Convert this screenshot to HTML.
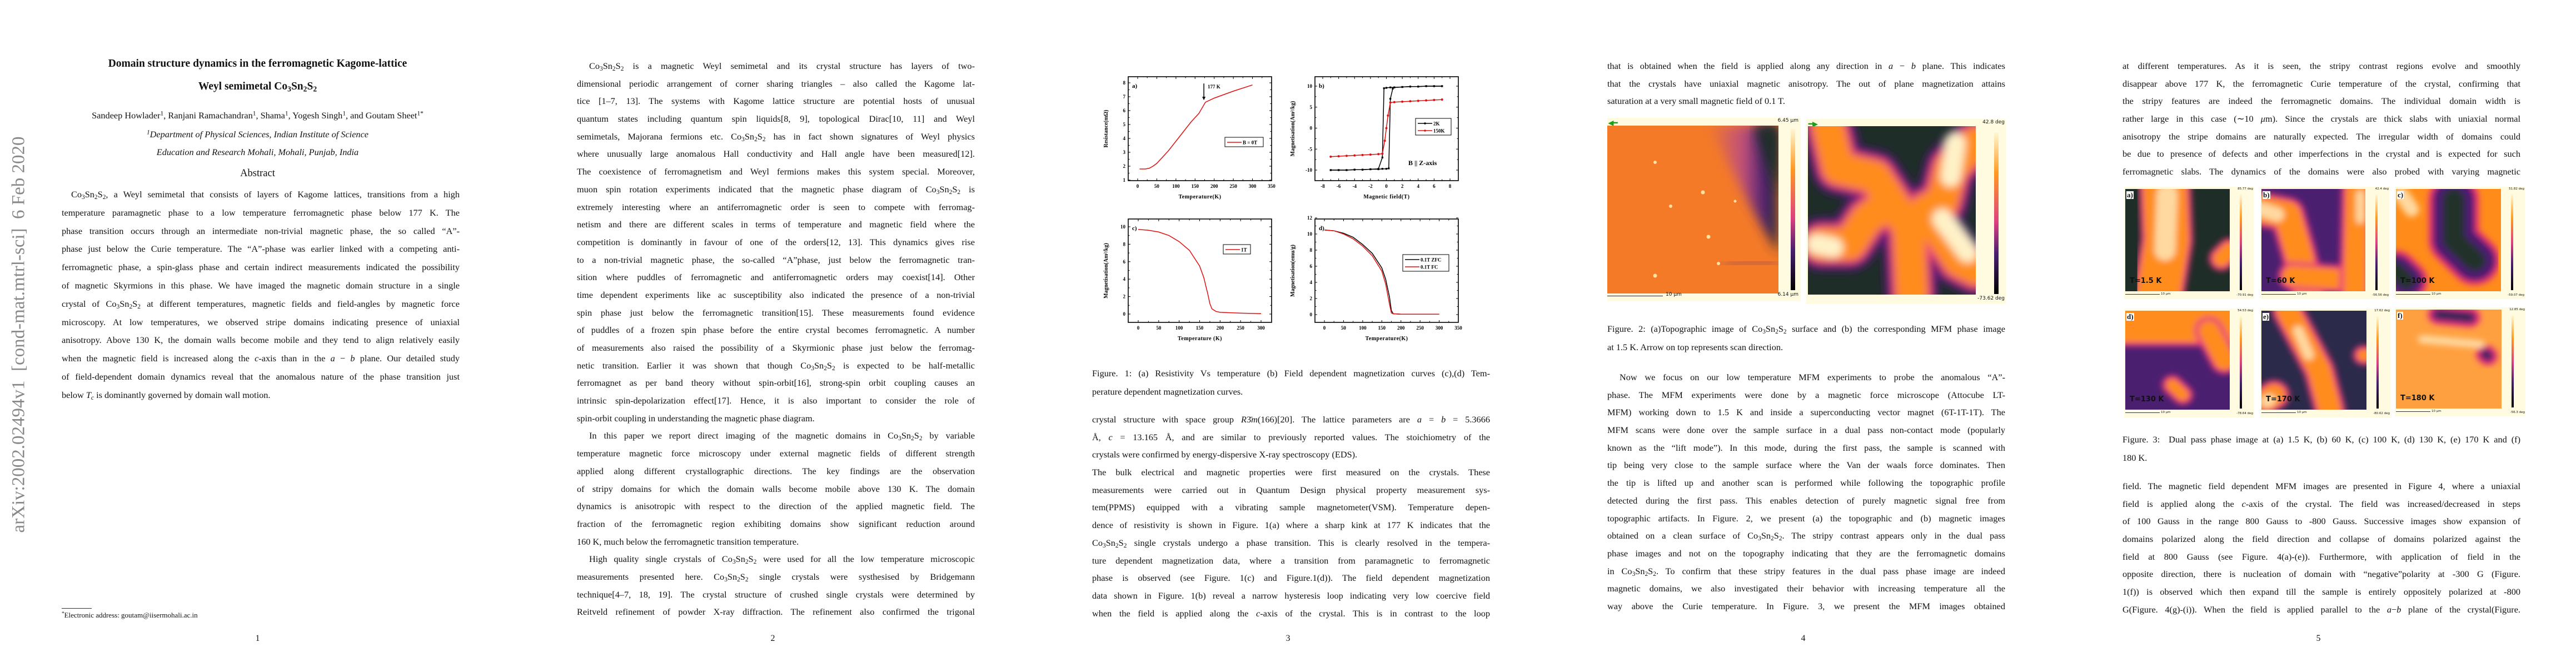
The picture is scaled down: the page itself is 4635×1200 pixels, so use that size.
<!DOCTYPE html>
<html><head><meta charset="utf-8">
<style>
html,body{margin:0;padding:0;background:#fff;}
body{width:4635px;height:1200px;position:relative;overflow:hidden;font-family:"Liberation Serif",serif;color:#111;}
.page{position:absolute;top:0;width:927px;height:1200px;background:#fff;}
.txt{position:absolute;left:111px;width:716px;font-size:16.3px;}
.ln{height:31.7px;line-height:31.7px;white-space:nowrap;text-align:justify;text-align-last:justify;overflow:visible;}
.ln.e{text-align-last:left;}
.ln.i{text-indent:22px;}
sub{font-size:0.7em;vertical-align:-0.25em;line-height:0;}
sup{font-size:0.7em;vertical-align:0.5em;line-height:0;}
.pn{position:absolute;top:1140px;width:927px;text-align:center;font-size:16px;}
.ctr{position:absolute;left:0;width:927px;text-align:center;}
svg text{font-family:"Liberation Serif",serif;}
</style></head>
<body>

<!-- PAGE 1 -->
<div class="page" style="left:0">
  <div style="position:absolute;left:14px;top:275px;width:40px;height:655px;">
    <div style="position:absolute;left:20px;top:327px;transform:translate(-50%,-50%) rotate(-90deg);white-space:nowrap;font-size:33px;color:#888;">arXiv:2002.02494v1&nbsp; [cond-mat.mtrl-sci]&nbsp; 6 Feb 2020</div>
  </div>
  <div class="ctr" style="top:104px;font-size:19.5px;font-weight:bold;">Domain structure dynamics in the ferromagnetic Kagome-lattice</div>
  <div class="ctr" style="top:145px;font-size:19.5px;font-weight:bold;">Weyl semimetal Co<sub>3</sub>Sn<sub>2</sub>S<sub>2</sub></div>
  <div class="ctr" style="top:198px;font-size:16.3px;">Sandeep Howlader<sup>1</sup>, Ranjani Ramachandran<sup>1</sup>, Shama<sup>1</sup>, Yogesh Singh<sup>1</sup>, and Goutam Sheet<sup>1*</sup></div>
  <div class="ctr" style="top:232px;font-size:16.3px;font-style:italic;"><sup>1</sup>Department of Physical Sciences, Indian Institute of Science</div>
  <div class="ctr" style="top:264px;font-size:16.3px;font-style:italic;">Education and Research Mohali, Mohali, Punjab, India</div>
  <div class="ctr" style="top:302px;font-size:18.5px;">Abstract</div>
  <div class="txt" style="top:334px;">
    <div class="ln i" style="height:32.8px;line-height:32.8px;text-indent:17px">Co<sub>3</sub>Sn<sub>2</sub>S<sub>2</sub>, a Weyl semimetal that consists of layers of Kagome lattices, transitions from a high</div>
    <div class="ln" style="height:32.8px;line-height:32.8px">temperature paramagnetic phase to a low temperature ferromagnetic phase below 177 K. The</div>
    <div class="ln" style="height:32.8px;line-height:32.8px">phase transition occurs through an intermediate non-trivial magnetic phase, the so called “A”-</div>
    <div class="ln" style="height:32.8px;line-height:32.8px">phase just below the Curie temperature. The “A”-phase was earlier linked with a competing anti-</div>
    <div class="ln" style="height:32.8px;line-height:32.8px">ferromagnetic phase, a spin-glass phase and certain indirect measurements indicated the possibility</div>
    <div class="ln" style="height:32.8px;line-height:32.8px">of magnetic Skyrmions in this phase. We have imaged the magnetic domain structure in a single</div>
    <div class="ln" style="height:32.8px;line-height:32.8px">crystal of Co<sub>3</sub>Sn<sub>2</sub>S<sub>2</sub> at different temperatures, magnetic fields and field-angles by magnetic force</div>
    <div class="ln" style="height:32.8px;line-height:32.8px">microscopy. At low temperatures, we observed stripe domains indicating presence of uniaxial</div>
    <div class="ln" style="height:32.8px;line-height:32.8px">anisotropy. Above 130 K, the domain walls become mobile and they tend to align relatively easily</div>
    <div class="ln" style="height:32.8px;line-height:32.8px">when the magnetic field is increased along the <i>c</i>-axis than in the <i>a</i> − <i>b</i> plane. Our detailed study</div>
    <div class="ln" style="height:32.8px;line-height:32.8px">of field-dependent domain dynamics reveal that the anomalous nature of the phase transition just</div>
    <div class="ln e" style="height:32.8px;line-height:32.8px">below <i>T<sub>c</sub></i> is dominantly governed by domain wall motion.</div>
  </div>
  <div style="position:absolute;left:111px;top:1094px;width:54px;border-top:1px solid #333;"></div>
  <div style="position:absolute;left:111px;top:1099px;font-size:13px;"><sup>*</sup>Electronic address: goutam@iisermohali.ac.in</div>
  <div class="pn">1</div>
</div>

<!-- PAGE 2 -->
<div class="page" style="left:927px">
  <div class="txt" style="top:103px;">
    <div class="ln i">Co<sub>3</sub>Sn<sub>2</sub>S<sub>2</sub> is a magnetic Weyl semimetal and its crystal structure has layers of two-</div>
    <div class="ln">dimensional periodic arrangement of corner sharing triangles – also called the Kagome lat-</div>
    <div class="ln">tice [1–7, 13]. The systems with Kagome lattice structure are potential hosts of unusual</div>
    <div class="ln">quantum states including quantum spin liquids[8, 9], topological Dirac[10, 11] and Weyl</div>
    <div class="ln">semimetals, Majorana fermions etc. Co<sub>3</sub>Sn<sub>2</sub>S<sub>2</sub> has in fact shown signatures of Weyl physics</div>
    <div class="ln">where unusually large anomalous Hall conductivity and Hall angle have been measured[12].</div>
    <div class="ln">The coexistence of ferromagnetism and Weyl fermions makes this system special. Moreover,</div>
    <div class="ln">muon spin rotation experiments indicated that the magnetic phase diagram of Co<sub>3</sub>Sn<sub>2</sub>S<sub>2</sub> is</div>
    <div class="ln">extremely interesting where an antiferromagnetic order is seen to compete with ferromag-</div>
    <div class="ln">netism and there are different scales in terms of temperature and magnetic field where the</div>
    <div class="ln">competition is dominantly in favour of one of the orders[12, 13]. This dynamics gives rise</div>
    <div class="ln">to a non-trivial magnetic phase, the so-called “A”phase, just below the ferromagnetic tran-</div>
    <div class="ln">sition where puddles of ferromagnetic and antiferromagnetic orders may coexist[14]. Other</div>
    <div class="ln">time dependent experiments like ac susceptibility also indicated the presence of a non-trivial</div>
    <div class="ln">spin phase just below the ferromagnetic transition[15]. These measurements found evidence</div>
    <div class="ln">of puddles of a frozen spin phase before the entire crystal becomes ferromagnetic. A number</div>
    <div class="ln">of measurements also raised the possibility of a Skyrmionic phase just below the ferromag-</div>
    <div class="ln">netic transition. Earlier it was shown that though Co<sub>3</sub>Sn<sub>2</sub>S<sub>2</sub> is expected to be half-metallic</div>
    <div class="ln">ferromagnet as per band theory without spin-orbit[16], strong-spin orbit coupling causes an</div>
    <div class="ln">intrinsic spin-depolarization effect[17]. Hence, it is also important to consider the role of</div>
    <div class="ln e">spin-orbit coupling in understanding the magnetic phase diagram.</div>
    <div class="ln i">In this paper we report direct imaging of the magnetic domains in Co<sub>3</sub>Sn<sub>2</sub>S<sub>2</sub> by variable</div>
    <div class="ln">temperature magnetic force microscopy under external magnetic fields of different strength</div>
    <div class="ln">applied along different crystallographic directions. The key findings are the observation</div>
    <div class="ln">of stripy domains for which the domain walls become mobile above 130 K. The domain</div>
    <div class="ln">dynamics is anisotropic with respect to the direction of the applied magnetic field. The</div>
    <div class="ln">fraction of the ferromagnetic region exhibiting domains show significant reduction around</div>
    <div class="ln e">160 K, much below the ferromagnetic transition temperature.</div>
    <div class="ln i">High quality single crystals of Co<sub>3</sub>Sn<sub>2</sub>S<sub>2</sub> were used for all the low temperature microscopic</div>
    <div class="ln">measurements presented here. Co<sub>3</sub>Sn<sub>2</sub>S<sub>2</sub> single crystals were systhesised by Bridgemann</div>
    <div class="ln">technique[4–7, 18, 19]. The crystal structure of crushed single crystals were determined by</div>
    <div class="ln">Reitveld refinement of powder X-ray diffraction. The refinement also confirmed the trigonal</div>
  </div>
  <div class="pn">2</div>
</div>

<!-- PAGE 3 -->
<div class="page" style="left:1854px">
  <svg id="fig1" width="927" height="640" style="position:absolute;left:0;top:0"></svg>
  <div class="txt" style="top:655px;">
    <div class="ln" style="height:33px;line-height:33px">Figure. 1: (a) Resistivity Vs temperature (b) Field dependent magnetization curves (c),(d) Tem-</div>
    <div class="ln e" style="height:33px;line-height:33px">perature dependent magnetization curves.</div>
  </div>
  <div class="txt" style="top:739px;">
    <div class="ln">crystal structure with space group <i>R</i>3̄<i>m</i>(166)[20]. The lattice parameters are <i>a</i> = <i>b</i> = 5.3666</div>
    <div class="ln">Å, <i>c</i> = 13.165 Å, and are similar to previously reported values. The stoichiometry of the</div>
    <div class="ln e">crystals were confirmed by energy-dispersive X-ray spectroscopy (EDS).</div>
    <div class="ln">The bulk electrical and magnetic properties were first measured on the crystals. These</div>
    <div class="ln">measurements were carried out in Quantum Design physical property measurement sys-</div>
    <div class="ln">tem(PPMS) equipped with a vibrating sample magnetometer(VSM). Temperature depen-</div>
    <div class="ln">dence of resistivity is shown in Figure. 1(a) where a sharp kink at 177 K indicates that the</div>
    <div class="ln">Co<sub>3</sub>Sn<sub>2</sub>S<sub>2</sub> single crystals undergo a phase transition. This is clearly resolved in the tempera-</div>
    <div class="ln">ture dependent magnetization data, where a transition from paramagnetic to ferromagnetic</div>
    <div class="ln">phase is observed (see Figure. 1(c) and Figure.1(d)). The field dependent magnetization</div>
    <div class="ln">data shown in Figure. 1(b) reveal a narrow hysteresis loop indicating very low coercive field</div>
    <div class="ln">when the field is applied along the <i>c</i>-axis of the crystal. This is in contrast to the loop</div>
  </div>
  <div class="pn">3</div>
</div>

<!-- PAGE 4 -->
<div class="page" style="left:2781px">
  <div class="txt" style="top:103px;">
    <div class="ln">that is obtained when the field is applied along any direction in <i>a</i> − <i>b</i> plane. This indicates</div>
    <div class="ln">that the crystals have uniaxial magnetic anisotropy. The out of plane magnetization attains</div>
    <div class="ln e">saturation at a very small magnetic field of 0.1 T.</div>
  </div>
  <div style="position:absolute;left:111px;top:212px;width:348px;height:330px;background:#fffbe0;">
    <div style="position:absolute;left:2px;top:4px;color:#1aa01a;font-size:12px;font-weight:bold;line-height:10px;">◀━</div>
    <div style="position:absolute;right:4px;top:0px;font-family:'DejaVu Sans',sans-serif;font-size:9px;">6.45 μm</div>
    <svg style="position:absolute;left:0;top:14px" width="308" height="302" viewBox="0 0 308 302">
      <defs><filter id="bt" x="-20%" y="-20%" width="140%" height="140%"><feGaussianBlur stdDeviation="10"/></filter>
      <linearGradient id="tg" x1="0" y1="0" x2="1" y2="0"><stop offset="0" stop-color="#f47a28"/><stop offset="0.5" stop-color="#c0507a"/><stop offset="0.8" stop-color="#4a2070"/><stop offset="1" stop-color="#26302a"/></linearGradient></defs>
      <rect width="308" height="302" fill="#f47a28"/>
      <path d="M180,0 L308,0 L308,230 Q270,170 240,110 Q210,50 180,0Z" fill="url(#tg)" filter="url(#bt)"/>
      <path d="M265,0 L308,0 L308,120 Q285,70 265,0Z" fill="#1f2e28" filter="url(#bt)"/>
      <path d="M210,250 L308,245" stroke="#6a2a60" stroke-width="5" filter="url(#bt)"/>
      <g fill="#ffe2a0"><circle cx="86" cy="66" r="3"/><circle cx="172" cy="120" r="3.5"/><circle cx="114" cy="145" r="3"/><circle cx="182" cy="200" r="3.5"/><circle cx="86" cy="270" r="3.5"/><circle cx="200" cy="248" r="3"/><circle cx="230" cy="136" r="2.5"/></g>
    </svg>
    <div style="position:absolute;left:330px;top:20px;width:8px;height:290px;background:linear-gradient(#fff7d0,#ff9a20 25%,#e04080 55%,#4a1f70 75%,#000);"></div>
    <div style="position:absolute;left:0;top:320px;width:100px;border-top:1px solid #222;"></div>
    <div style="position:absolute;left:105px;top:313px;font-family:'DejaVu Sans',sans-serif;font-size:9px;">10 μm</div>
    <div style="position:absolute;right:4px;top:313px;font-family:'DejaVu Sans',sans-serif;font-size:9px;">6.14 μm</div>
  </div>
  <div style="position:absolute;left:469px;top:214px;width:359px;height:333px;background:#fffbe0;">
    <div style="position:absolute;left:4px;top:4px;color:#1aa01a;font-size:12px;font-weight:bold;line-height:10px;">━▶</div>
    <div style="position:absolute;right:2px;top:1px;font-family:'DejaVu Sans',sans-serif;font-size:9px;">42.8 deg</div>
    <svg style="position:absolute;left:3px;top:13px" width="302" height="303" viewBox="0 0 100 100" preserveAspectRatio="none">
      <defs><filter id="b2" x="-30%" y="-30%" width="160%" height="160%"><feGaussianBlur stdDeviation="2.5"/></filter></defs>
      <rect width="100" height="100" fill="#1e2d27"/>
      <g filter="url(#b2)" fill="none" stroke-linecap="round" stroke-linejoin="round">
        <path d="M12,0 L18,25 L40,30 L50,45 L60,60 L62,100 M8,70 L25,70 L35,55 L50,45 M100,10 L85,25 L80,45 L70,50 L90,80 L100,85" stroke="#4b1f70" stroke-width="32"/>
        <path d="M12,0 L18,25 L40,30 L50,45 L60,60 L62,100 M8,70 L25,70 L35,55 L50,45 M100,10 L85,25 L80,45 L70,50 L90,80 L100,85" stroke="#e8307a" stroke-width="24"/>
        <path d="M12,0 L18,25 L40,30 L50,45 L60,60 L62,100 M8,70 L25,70 L35,55 L50,45 M100,10 L85,25 L80,45 L70,50 L90,80 L100,85" stroke="#ff8c1a" stroke-width="19"/>
        <path d="M5,70 L15,72 M88,10 L85,30 M80,55 L95,75" stroke="#fff2c8" stroke-width="12"/>
      </g>
    </svg>
    <div style="position:absolute;left:338px;top:25px;width:8px;height:290px;background:linear-gradient(#fff7d0,#ff9a20 25%,#e04080 55%,#4a1f70 75%,#000);"></div>
    <div style="position:absolute;right:2px;top:318px;font-family:'DejaVu Sans',sans-serif;font-size:9px;">-73.62 deg</div>
  </div>
  <div class="txt" style="top:575px;">
    <div class="ln" style="height:33px;line-height:33px">Figure. 2: (a)Topographic image of Co<sub>3</sub>Sn<sub>2</sub>S<sub>2</sub> surface and (b) the corresponding MFM phase image</div>
    <div class="ln e" style="height:33px;line-height:33px">at 1.5 K. Arrow on top represents scan direction.</div>
  </div>
  <div class="txt" style="top:663px;">
    <div class="ln i">Now we focus on our low temperature MFM experiments to probe the anomalous “A”-</div>
    <div class="ln">phase. The MFM experiments were done by a magnetic force microscope (Attocube LT-</div>
    <div class="ln">MFM) working down to 1.5 K and inside a superconducting vector magnet (6T-1T-1T). The</div>
    <div class="ln">MFM scans were done over the sample surface in a dual pass non-contact mode (popularly</div>
    <div class="ln">known as the “lift mode”). In this mode, during the first pass, the sample is scanned with</div>
    <div class="ln">tip being very close to the sample surface where the Van der waals force dominates. Then</div>
    <div class="ln">the tip is lifted up and another scan is performed while following the topographic profile</div>
    <div class="ln">detected during the first pass. This enables detection of purely magnetic signal free from</div>
    <div class="ln">topographic artifacts. In Figure. 2, we present (a) the topographic and (b) magnetic images</div>
    <div class="ln">obtained on a clean surface of Co<sub>3</sub>Sn<sub>2</sub>S<sub>2</sub>. The stripy contrast appears only in the dual pass</div>
    <div class="ln">phase images and not on the topography indicating that they are the ferromagnetic domains</div>
    <div class="ln">in Co<sub>3</sub>Sn<sub>2</sub>S<sub>2</sub>. To confirm that these stripy features in the dual pass phase image are indeed</div>
    <div class="ln">magnetic domains, we also investigated their behavior with increasing temperature all the</div>
    <div class="ln">way above the Curie temperature. In Figure. 3, we present the MFM images obtained</div>
  </div>
  <div class="pn">4</div>
</div>

<!-- PAGE 5 -->
<div class="page" style="left:3708px">
  <div class="txt" style="top:103px;">
    <div class="ln">at different temperatures. As it is seen, the stripy contrast regions evolve and smoothly</div>
    <div class="ln">disappear above 177 K, the ferromagnetic Curie temperature of the crystal, confirming that</div>
    <div class="ln">the stripy features are indeed the ferromagnetic domains. The individual domain width is</div>
    <div class="ln">rather large in this case (∼10 <i>μ</i>m). Since the crystals are thick slabs with uniaxial normal</div>
    <div class="ln">anisotropy the stripe domains are naturally expected. The irregular width of domains could</div>
    <div class="ln">be due to presence of defects and other imperfections in the crystal and is expected for such</div>
    <div class="ln">ferromagnetic slabs. The dynamics of the domains were also probed with varying magnetic</div>
  </div>
  <div id="fig3"></div>
  <div class="txt" style="top:774px;">
    <div class="ln" style="height:33px;line-height:33px">Figure. 3: &nbsp;Dual pass phase image at (a) 1.5 K, (b) 60 K, (c) 100 K, (d) 130 K, (e) 170 K and (f)</div>
    <div class="ln e" style="height:33px;line-height:33px">180 K.</div>
  </div>
  <div class="txt" style="top:859px;">
    <div class="ln">field. The magnetic field dependent MFM images are presented in Figure 4, where a uniaxial</div>
    <div class="ln">field is applied along the <i>c</i>-axis of the crystal. The field was increased/decreased in steps</div>
    <div class="ln">of 100 Gauss in the range 800 Gauss to -800 Gauss. Successive images show expansion of</div>
    <div class="ln">domains polarized along the field direction and collapse of domains polarized against the</div>
    <div class="ln">field at 800 Gauss (see Figure. 4(a)-(e)). Furthermore, with application of field in the</div>
    <div class="ln">opposite direction, there is nucleation of domain with “negative”polarity at -300 G (Figure.</div>
    <div class="ln">1(f)) is observed which then expand till the sample is entirely oppositely polarized at -800</div>
    <div class="ln">G(Figure. 4(g)-(i)). When the field is applied parallel to the <i>a</i>−<i>b</i> plane of the crystal(Figure.</div>
  </div>
  <div class="pn">5</div>
</div>

<script>
// ---------- Figure 1 data ----------
const tempA = [5, 20, 30, 40, 50, 60, 80, 100, 120, 140, 160, 177, 200, 250, 300];
const resistA = [1.8, 1.8, 1.85, 2.0, 2.2, 2.5, 3.1, 3.8, 4.5, 5.2, 5.8, 6.6, 6.9, 7.4, 7.85];
const xTicksA = [0, 50, 100, 150, 200, 250, 300, 350];
const yTicksA = [1, 2, 3, 4, 5, 6, 7, 8];

const field2KUp = [-7, -6, -5, -4, -3, -2, -1, -0.5, 0, 0.3, 0.5, 0.8, 1, 2, 3, 4, 5, 6, 7];
const mag2KUp = [-10, -10, -10, -9.9, -9.9, -9.8, -9.8, -9.7, -9.7, -9.6, 7, 9.4, 9.7, 9.8, 9.9, 9.9, 10, 10, 10];
const field2KDown = [7, 6, 5, 4, 3, 2, 1, 0.5, 0, -0.3, -0.5, -1, -2, -3, -4, -5, -6, -7];
const mag2KDown = [10, 10, 10, 9.9, 9.9, 9.8, 9.7, 9.7, 9.6, 9.5, -7, -9.7, -9.8, -9.9, -9.9, -10, -10, -10];
const field150K = [-7, -6, -5, -4, -3, -2, -1, -0.5, -0.2, 0, 0.2, 0.5, 1, 2, 3, 4, 5, 6, 7];
const mag150K = [-6.8, -6.7, -6.6, -6.5, -6.4, -6.3, -6.2, -6.1, -3, 0, 3, 6.1, 6.2, 6.3, 6.4, 6.5, 6.6, 6.7, 6.8];
const xTicksB = [-8, -6, -4, -2, 0, 2, 4, 6, 8];
const yTicksB = [-10, -5, 0, 5, 10];

const tempC = [0, 25, 50, 75, 100, 125, 150, 160, 170, 175, 180, 190, 200, 250, 300];
const magC = [9.7, 9.6, 9.4, 9.0, 8.3, 7.3, 5.5, 4.2, 2.3, 1.2, 0.6, 0.3, 0.2, 0.1, 0.05];
const xTicksC = [0, 50, 100, 150, 200, 250, 300];
const yTicksC = [0, 2, 4, 6, 8, 10];

const tempD = [0, 25, 50, 75, 100, 125, 150, 160, 170, 175, 180, 200, 250, 300];
const magZFC = [10.5, 10.4, 10.1, 9.6, 8.7, 7.6, 5.8, 4.4, 2.2, 0.5, 0.1, 0.05, 0.05, 0.05];
const magFC = [10.5, 10.4, 10.0, 9.4, 8.5, 7.3, 5.4, 3.8, 1.3, 0.2, 0.1, 0.05, 0.05, 0.05];
const xTicksD = [0, 50, 100, 150, 200, 250, 300, 350];
const yTicksD = [0, 2, 4, 6, 8, 10, 12];

const NS = 'http://www.w3.org/2000/svg';
const fig1 = document.getElementById('fig1');
function mk(tag, attrs, parent) {
  const e = document.createElementNS(NS, tag);
  for (const k in attrs) e.setAttribute(k, attrs[k]);
  (parent || fig1).appendChild(e);
  return e;
}
function linScale(d0, d1, r0, r1) { return v => r0 + (v - d0) / (d1 - d0) * (r1 - r0); }

function panel(name, frame, xs, ys, xTicks, yTicks, xLabel, yLabel, letter) {
  const g = mk('g', {});
  
  
  const fr = mk('rect', {x: frame.x0, y: frame.y0, width: frame.x1 - frame.x0, height: frame.y1 - frame.y0, fill: 'none', stroke: '#000', 'stroke-width': 1.6}, g);
  
  
  xTicks.forEach((t, i) => {
    const x = xs(t);
    mk('line', {x1: x, y1: frame.y1, x2: x, y2: frame.y1 - 4, stroke: '#000'}, g);
    mk('line', {x1: x, y1: frame.y0, x2: x, y2: frame.y0 + 4, stroke: '#000'}, g);
    if (i < xTicks.length - 1) {
      const xm = xs((t + xTicks[i + 1]) / 2);
      mk('line', {x1: xm, y1: frame.y1, x2: xm, y2: frame.y1 - 2.5, stroke: '#000'}, g);
      mk('line', {x1: xm, y1: frame.y0, x2: xm, y2: frame.y0 + 2.5, stroke: '#000'}, g);
    }
    const tl = mk('text', {x: x, y: frame.y1 + 13, 'font-size': 9, 'font-weight': 'bold', 'text-anchor': 'middle'}, g);
    tl.textContent = t;
    
    
  });
  yTicks.forEach((t, i) => {
    const y = ys(t);
    mk('line', {x1: frame.x0, y1: y, x2: frame.x0 + 4, y2: y, stroke: '#000'}, g);
    mk('line', {x1: frame.x1, y1: y, x2: frame.x1 - 4, y2: y, stroke: '#000'}, g);
    if (i < yTicks.length - 1) {
      const ym = ys((t + yTicks[i + 1]) / 2);
      mk('line', {x1: frame.x0, y1: ym, x2: frame.x0 + 2.5, y2: ym, stroke: '#000'}, g);
      mk('line', {x1: frame.x1, y1: ym, x2: frame.x1 - 2.5, y2: ym, stroke: '#000'}, g);
    }
    const tl = mk('text', {x: frame.x0 - 5, y: y + 3, 'font-size': 9, 'font-weight': 'bold', 'text-anchor': 'end'}, g);
    tl.textContent = t;
    
    
  });
  const xl = mk('text', {x: (frame.x0 + frame.x1) / 2, y: frame.y1 + 32, 'font-size': 10, 'font-weight': 'bold', 'text-anchor': 'middle', 'letter-spacing': '0.5'}, g);
  xl.textContent = xLabel;
  
  
  const cy = (frame.y0 + frame.y1) / 2, cx = frame.x0 - 37;
  const yl = mk('text', {x: cx, y: cy, 'font-size': 10, 'font-weight': 'bold', 'text-anchor': 'middle', transform: 'rotate(-90 ' + cx + ' ' + cy + ')'}, g);
  yl.textContent = yLabel;
  
  
  const lt = mk('text', {x: frame.x0 + 7, y: frame.y0 + 20, 'font-size': 11, 'font-weight': 'bold'}, g);
  lt.textContent = letter;
  
  
  return g;
}
function series(g, name, xs, ys, xv, yv, color, markers) {
  const pts = xv.map((v, i) => xs(v).toFixed(1) + ',' + ys(yv[i]).toFixed(1)).join(' ');
  const pl = mk('polyline', {points: pts, fill: 'none', stroke: color, 'stroke-width': 1.5}, g);
  
  
  if (markers) xv.forEach((v, i) => {
    if (markers === 'sq') mk('rect', {x: xs(v) - 1.6, y: ys(yv[i]) - 1.6, width: 3.2, height: 3.2, fill: color}, g);
    else mk('circle', {cx: xs(v), cy: ys(yv[i]), r: 2, fill: color}, g);
  });
}
function legend(g, x, y, w, entries) {
  const box = mk('rect', {x: x, y: y, width: w, height: entries.length * 13 + 4, fill: '#fff', stroke: '#000', 'stroke-width': 1}, g);
  
  
  entries.forEach((e, i) => {
    const yy = y + 9 + i * 13;
    mk('line', {x1: x + 4, y1: yy, x2: x + 30, y2: yy, stroke: e[1], 'stroke-width': 1.5}, g);
    if (e[2]) mk('circle', {cx: x + 17, cy: yy, r: 1.8, fill: e[1]}, g);
    const t = mk('text', {x: x + 32, y: yy + 3.5, 'font-size': 9, 'font-weight': 'bold'}, g);
    t.textContent = e[0];
    
    
  });
}

const frA = {x0: 176, x1: 434, y0: 138, y1: 325};
const xsA = linScale(0, 350, 193, 434), ysA = linScale(1, 8, 324, 149);
const gA = panel('panel-a-resistance', frA, xsA, ysA, xTicksA, yTicksA, 'Temperature(K)', 'Resistance(mΩ)', 'a)');
series(gA, 'resistance-curve', xsA, ysA, tempA, resistA, '#e01010');
mk('line', {x1: xsA(173), y1: ysA(7.95), x2: xsA(173), y2: ysA(6.9), stroke: '#000', 'stroke-width': 1.5}, gA);
mk('path', {d: `M${xsA(173) - 3},${ysA(7.0)} L${xsA(173) + 3},${ysA(7.0)} L${xsA(173)},${ysA(6.75)}Z`, fill: '#000'}, gA);
const an = mk('text', {x: xsA(183), y: ysA(7.6), 'font-size': 9, 'font-weight': 'bold'}, gA);
an.textContent = '177 K';


legend(gA, 350, 247, 69, [['B = 0T', '#e01010']]);

const frB = {x0: 512, x1: 770, y0: 138, y1: 325};
const xsB = linScale(-8, 8, 526, 755), ysB = linScale(-10, 10, 306, 155);
const gB = panel('panel-b-hysteresis', frB, xsB, ysB, xTicksB, yTicksB, 'Magnetic field(T)', 'Magnetisation(Am²/kg)', 'b)');
series(gB, 'series-2K-up', xsB, ysB, field2KUp, mag2KUp, '#000', 'sq');
series(gB, 'series-2K-down', xsB, ysB, field2KDown, mag2KDown, '#000', 'sq');
series(gB, 'series-150K', xsB, ysB, field150K, mag150K, '#e01010', 'dot');
legend(gB, 693, 213, 64, [['2K', '#000', true], ['150K', '#e01010', true]]);
const bz = mk('text', {x: 680, y: 297, 'font-size': 12, 'font-weight': 'bold', 'font-family': 'DejaVu Sans, sans-serif'}, gB);
bz.textContent = 'B || Z-axis';



const frC = {x0: 176, x1: 434, y0: 394, y1: 580};
const xsC = linScale(0, 300, 194, 415), ysC = linScale(0, 10, 565, 408);
const gC = panel('panel-c-magnetization', frC, xsC, ysC, xTicksC, yTicksC, 'Temperature (K)', 'Magnetisation(Am²/kg)', 'c)');
series(gC, 'magnetization-1T', xsC, ysC, tempC, magC, '#e01010');
legend(gC, 347, 440, 49, [['1T', '#e01010']]);

const frD = {x0: 512, x1: 770, y0: 394, y1: 580};
const xsD = linScale(0, 350, 529, 770), ysD = linScale(0, 12, 566, 392);
const gD = panel('panel-d-zfc-fc', frD, xsD, ysD, xTicksD, yTicksD, 'Temperature(K)', 'Magnetisation(emu/g)', 'd)');
series(gD, 'series-zfc', xsD, ysD, tempD, magZFC, '#000');
series(gD, 'series-fc', xsD, ysD, tempD, magFC, '#e01010');
legend(gD, 670, 458, 83, [['0.1T ZFC', '#000'], ['0.1T FC', '#e01010']]);

// ---------- Figure 3 MFM panels ----------
const panels = [
  {id: 'a', x: 116, y: 340, w: 188, h: 184, bg: '#1e2d27', label: 'T=1.5 K', top: '85.77 deg', bot: '-70.91 deg',
   strokes: [['M38,0 L40,50 L32,100', 42], ['M100,60 L92,68', 16]], pale: [['M40,5 L38,60', 20]]},
  {id: 'b', x: 361, y: 340, w: 187, h: 184, bg: '#4b1f70', label: 'T=60 K', top: '42.4 deg', bot: '-56.56 deg',
   strokes: [['M0,20 L25,25 L35,60 L45,100', 26], ['M30,85 L100,90', 20], ['M92,0 L90,100', 22]], pale: [['M0,20 L15,25', 14], ['M95,5 L95,30', 8]]},
  {id: 'c', x: 603, y: 340, w: 189, h: 184, bg: '#ff8c1a', label: 'T=100 K', top: '51.82 deg', bot: '-59.07 deg',
   strokes: [], dark: [['M55,10 L55,50 L75,70', 34], ['M0,80 L10,90', 26]], pale: [['M5,5 L15,20', 14]]},
  {id: 'd', x: 116, y: 559, w: 188, h: 178, bg: '#4b1f70', label: 'T=130 K', top: '54.53 deg', bot: '-78.64 deg',
   strokes: [['M0,12 L100,12', 40], ['M80,20 L95,50', 20], ['M45,75 L55,85', 12]], pale: []},
  {id: 'e', x: 361, y: 559, w: 189, h: 178, bg: '#2b2a4a', label: 'T=170 K', top: '17.62 deg', bot: '-80.62 deg',
   strokes: [['M25,0 L45,40 L55,60 L65,100', 22], ['M5,90 L12,85', 22], ['M100,45 L97,45', 12]], pale: [['M35,20 L45,45', 10], ['M5,92 L8,90', 12]]},
  {id: 'f', x: 603, y: 557, w: 190, h: 178, bg: '#ffa040', label: 'T=180 K', top: '12.85 deg', bot: '-56.3 deg',
   strokes: [], dark: [['M40,5 L70,8', 6], ['M85,45 L87,47', 5]], pale: [['M25,30 L80,35', 8]]}
];
const fig3 = document.getElementById('fig3');
panels.forEach(p => {
  const wrap = document.createElement('div');
  
  
  wrap.style.cssText = `position:absolute;left:${p.x - 2}px;top:${p.y - 4}px;width:${p.w + 45}px;height:${p.h + 18}px;background:#fffbe0;`;
  let svg = `<svg width="${p.w}" height="${p.h}" style="position:absolute;left:2px;top:4px" viewBox="0 0 100 100" preserveAspectRatio="none">
  <defs><filter id="f3${p.id}" x="-30%" y="-30%" width="160%" height="160%"><feGaussianBlur stdDeviation="3"/></filter></defs>
  <rect width="100" height="100" fill="${p.bg}"/><g filter="url(#f3${p.id})" fill="none" stroke-linecap="round" stroke-linejoin="round">`;
  (p.dark || []).forEach(s => {
    svg += `<path d="${s[0]}" stroke="#e8307a" stroke-width="${s[1] + 14}"/><path d="${s[0]}" stroke="#4b1f70" stroke-width="${s[1] + 6}"/><path d="${s[0]}" stroke="#23302a" stroke-width="${s[1] * 0.6}"/>`;
  });
  p.strokes.forEach(s => {
    svg += `<path d="${s[0]}" stroke="#e8307a" stroke-width="${s[1] + 8}"/><path d="${s[0]}" stroke="#ff8c1a" stroke-width="${s[1]}"/>`;
  });
  (p.pale || []).forEach(s => { svg += `<path d="${s[0]}" stroke="#ffd9a0" stroke-width="${s[1]}"/>`; });
  svg += `</g></svg>`;
  wrap.innerHTML = svg +
    `<div style="position:absolute;left:4px;top:8px;background:#fff;font-weight:bold;font-size:13px;line-height:14px;padding:0 1px">${p.id})</div>` +
    `<div style="position:absolute;left:10px;top:${p.h - 22}px;font-family:'DejaVu Sans',sans-serif;font-weight:bold;font-size:13px;color:#111">${p.label}</div>` +
    `<div style="position:absolute;left:${p.w + 20}px;top:14px;width:4px;height:${p.h - 12}px;background:linear-gradient(#fff7d0,#ff9a20 25%,#e04080 50%,#4a1f70 72%,#000)"></div>` +
    `<div style="position:absolute;right:1px;top:1px;font-family:'DejaVu Sans',sans-serif;font-size:5.5px">${p.top}</div>` +
    `<div style="position:absolute;right:1px;top:${p.h + 8}px;font-family:'DejaVu Sans',sans-serif;font-size:5.5px">${p.bot}</div>` +
    `<div style="position:absolute;left:2px;top:${p.h + 9}px;width:62px;border-top:1px solid #333"></div>` +
    `<div style="position:absolute;left:66px;top:${p.h + 6}px;font-family:'DejaVu Sans',sans-serif;font-size:5.5px">10 μm</div>`;
  fig3.appendChild(wrap);
});
</script>
</body></html>
